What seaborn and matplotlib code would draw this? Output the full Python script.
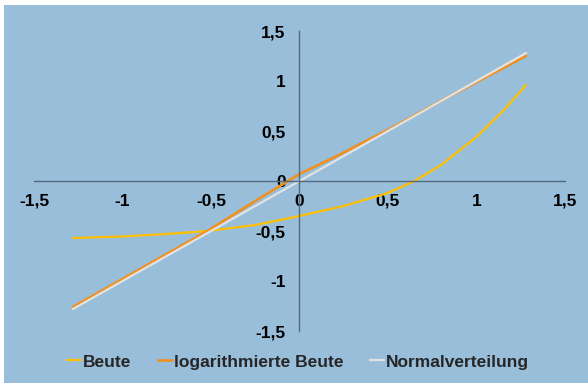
import matplotlib
matplotlib.use("Agg")
import matplotlib.pyplot as plt
from matplotlib.patches import Rectangle
import seaborn as sns
import pandas as pd

# ---- data ----
beute_x = [-1.28, -1.0, -0.75, -0.52, -0.25, 0.0, 0.25, 0.5, 0.65, 0.8, 1.0, 1.15, 1.28]
beute_y = [-0.57, -0.555, -0.53, -0.50, -0.44, -0.35, -0.25, -0.12, 0.0, 0.16, 0.44, 0.70, 0.96]
log_x = [-1.28, -0.84, -0.52, -0.25, 0.0, 0.2, 0.52, 0.84, 1.28]
log_y = [-1.26, -0.82, -0.50, -0.20, 0.07, 0.24, 0.53, 0.84, 1.25]
norm_x = [-1.28, 0.0, 1.28]
norm_y = [-1.28, 0.0, 1.28]
series_names = ["Beute", "logarithmierte Beute", "Normalverteilung"]
ticks = [-1.5, -1, -0.5, 0, 0.5, 1, 1.5]
tick_labels = ["-1,5", "-1", "-0,5", "0", "0,5", "1", "1,5"]

colors = ["#FFC000", "#F0901E", "#E2E2E2"]
widths = [1.6, 1.9, 1.6]
BG = "#99BEDA"

sns.set_style("white")
plt.rcParams["font.family"] = ["Liberation Sans", "DejaVu Sans"]

fig = plt.figure(figsize=(5.88, 3.83), dpi=100, facecolor="white")
fig.patches.append(Rectangle((4 / 588, 0), 1, 1 - 5 / 383, transform=fig.transFigure,
                             facecolor=BG, edgecolor="none", zorder=-10))
ax = fig.add_axes([34 / 588, 1 - 331 / 383, (565 - 34) / 588, (331 - 31) / 383])
ax.set_facecolor("none")

data = [(beute_x, beute_y), (log_x, log_y), (norm_x, norm_y)]
for (xs, ys), name, c, w in zip(data, series_names, colors, widths):
    df = pd.DataFrame({"x": xs, "y": ys})
    sns.lineplot(data=df, x="x", y="y", ax=ax, color=c, linewidth=w, label=name,
                 sort=False, estimator=None)

ax.set_xlim(-1.5, 1.5)
ax.set_ylim(-1.5, 1.5)
ax.set_xlabel("")
ax.set_ylabel("")
for s in ["top", "right"]:
    ax.spines[s].set_visible(False)
spine_c = "#56687A"
for s in ["left", "bottom"]:
    ax.spines[s].set_position(("data", 0))
    ax.spines[s].set_color(spine_c)
    ax.spines[s].set_linewidth(1.0)

ax.set_xticks(ticks)
ax.set_xticklabels(tick_labels)
ax.set_yticks(ticks)
ax.set_yticklabels(tick_labels)
ax.tick_params(axis="both", which="both", length=5, width=1.0, color=spine_c,
               labelsize=12.5, direction="out")
ax.tick_params(axis="x", pad=4)
ax.tick_params(axis="y", pad=5)
for lab in ax.get_xticklabels() + ax.get_yticklabels():
    lab.set_fontweight("bold")
    lab.set_color("black")

ax.get_legend().remove()
handles, labels = ax.get_legend_handles_labels()
leg = fig.legend(handles, labels, loc="center", bbox_to_anchor=(298 / 588, 1 - 362 / 383),
                 ncol=3, frameon=False, handlelength=0.85, handletextpad=0.1,
                 columnspacing=1.5, prop={"weight": "bold", "size": 12.5})

fig.savefig("out.png", dpi=100, facecolor=fig.get_facecolor())
